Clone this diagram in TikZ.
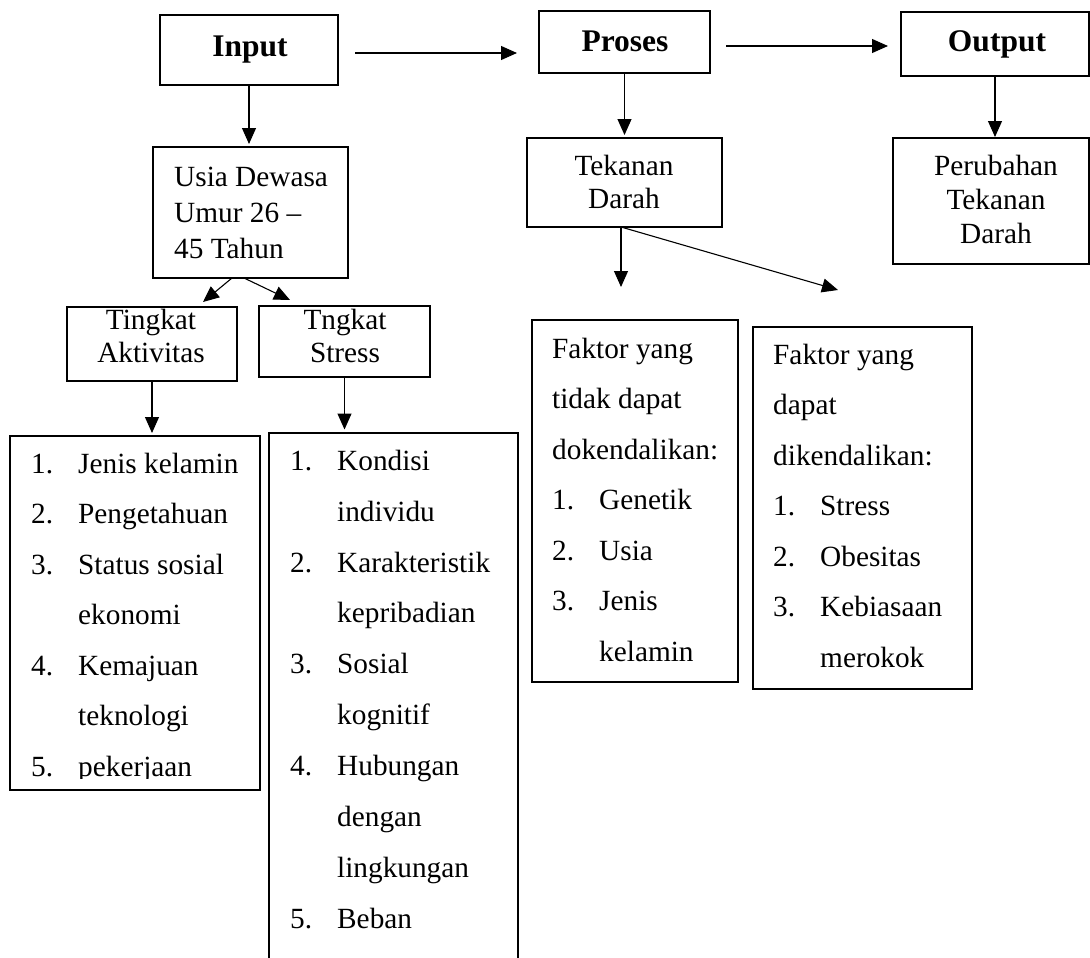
\documentclass[tikz,border=0pt]{standalone}
\usepackage{fontspec}
\setmainfont{Liberation Serif}
\usetikzlibrary{arrows.meta,calc}
\newcommand\fst{\rule{0pt}{22pt}}
\newcommand\itemnum[1]{\makebox[47pt][l]{#1}}
\newcommand\itemind{\hspace*{47pt}}
\tikzset{
  boxs/.style={draw, line width=1.1pt, inner sep=0pt, outer sep=0pt, anchor=north west},
  arr/.style={line width=1.1pt, -{Triangle[length=16pt,width=14pt]}},
  head/.style={inner sep=0pt, anchor=base, font=\fontsize{31.5}{36}\selectfont\bfseries},
  txt/.style={inner sep=0pt, font=\fontsize{29.3}{#1}\selectfont},
  txtl/.style={txt=#1, align=left, anchor=north west},
  txtc/.style={txt=#1, align=center, anchor=north},
}
\begin{document}
\begin{tikzpicture}[x=1pt,y=-1pt]
\useasboundingbox (0,0) rectangle (1090,958);
\clip (0,0) rectangle (1090,958);
% boxes
\node[boxs, minimum width=178pt, minimum height=70pt] (inp) at (160,15) {};
\node[boxs, minimum width=171pt, minimum height=62pt] (pro) at (539,11) {};
\node[boxs, minimum width=188pt, minimum height=64pt] (out) at (901,12) {};
\node[boxs, minimum width=195pt, minimum height=131pt] (usia) at (153,147) {};
\node[boxs, minimum width=170pt, minimum height=74pt] (ta) at (67,307) {};
\node[boxs, minimum width=171pt, minimum height=71pt] (ts) at (259,306) {};
\node[boxs, minimum width=250pt, minimum height=354pt] (la) at (10,436) {};
\node[boxs, minimum width=249pt, minimum height=600pt] (ls) at (269,433) {};
\node[boxs, minimum width=195pt, minimum height=89pt] (tek) at (527,138) {};
\node[boxs, minimum width=196pt, minimum height=126pt] (per) at (893,138) {};
\node[boxs, minimum width=206pt, minimum height=362pt] (fa) at (532,320) {};
\node[boxs, minimum width=219pt, minimum height=362pt] (fb) at (753,327) {};
% headings
\node[head] (tin) at (250,57) {Input};
\node[head] (tpr) at (625,52) {Proses};
\node[head] (tout) at (997,51.5) {Output};
% texts
\node[txtl=36pt] (tusia) at (174,164) {\fst Usia Dewasa\\Umur 26 –\\45 Tahun};
\node[txtc=33pt] (tta) at (151,307) {\fst Tingkat\\Aktivitas};
\node[txtc=33pt] (tts) at (345,307) {\fst Tngkat\\Stress};
\node[txtc=33pt] (ttek) at (624,153) {\fst Tekanan\\Darah};
\node[txtc=34pt] (tper) at (996,153) {\fst Perubahan\\Tekanan\\Darah};
\begin{scope}
\clip (0,0) rectangle (1090,778);
\node[txtl=50.5pt] (tla) at (31,451) {\fst\itemnum{1.}Jenis kelamin\\
\itemnum{2.}Pengetahuan\\
\itemnum{3.}Status sosial\\
\itemind ekonomi\\
\itemnum{4.}Kemajuan\\
\itemind teknologi\\
\itemnum{5.}pekerjaan};
\end{scope}
\node[txtl=50.9pt] (tls) at (290,448) {\fst\itemnum{1.}Kondisi\\
\itemind individu\\
\itemnum{2.}Karakteristik\\
\itemind kepribadian\\
\itemnum{3.}Sosial\\
\itemind kognitif\\
\itemnum{4.}Hubungan\\
\itemind dengan\\
\itemind lingkungan\\
\itemnum{5.}Beban\\
\itemind pekerjaan};
\node[txtl=50.5pt] (tfa) at (552,336) {\fst Faktor yang\\
tidak dapat\\
dokendalikan:\\
\itemnum{1.}Genetik\\
\itemnum{2.}Usia\\
\itemnum{3.}Jenis\\
\itemind kelamin};
\node[txtl=50.5pt] (tfb) at (773,342) {\fst Faktor yang\\
dapat\\
dikendalikan:\\
\itemnum{1.}Stress\\
\itemnum{2.}Obesitas\\
\itemnum{3.}Kebiasaan\\
\itemind merokok};
% free ends
\coordinate (c1) at (621,287);
\coordinate (c2) at (838,290);
% connectors
\coordinate (a1s) at ($(inp.east)+(17,3)$);
\draw[arr] (a1s) -- ($(pro.west |- a1s)+(-22,0)$);
\coordinate (a2s) at ($(pro.east)+(16,4)$);
\draw[arr] (a2s) -- ($(out.west |- a2s)+(-13,0)$);
\draw[arr] (inp.south) -- ($(usia.north -| inp.south)+(0,-3)$);
\draw[arr] ($(usia.south)+(-18.5,0)$) -- ($(ta.north)+(51,-5)$);
\draw[arr] ($(usia.south)+(-6.5,0)$) -- ($(ts.north)+(-54.5,-6)$);
\draw[arr] (ta.south) -- ($(la.north -| ta.south)+(0,-3)$);
\draw[arr] (ts.south) -- ($(ls.north -| ts.south)+(0,-3.5)$);
\draw[arr] (pro.south) -- ($(tek.north -| pro.south)+(0,-3)$);
\draw[arr] (out.south) -- ($(per.north -| out.south)+(0,-1)$);
\draw[arr] ($(tek.south)+(-3.5,0)$) -- (c1);
\draw[arr] ($(tek.south)+(-3.5,0)$) -- (c2);
\end{tikzpicture}
\end{document}
